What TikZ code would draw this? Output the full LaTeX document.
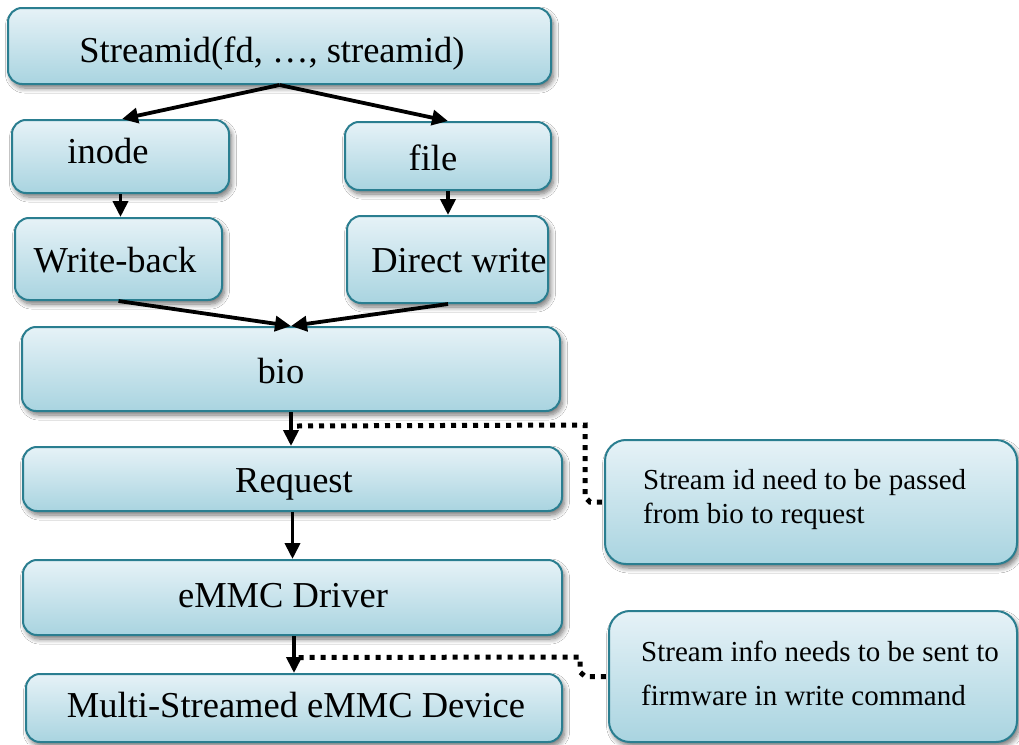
\documentclass[tikz,border=0pt]{standalone}
\usepackage{fontspec}
\setmainfont{Liberation Serif}
\usetikzlibrary{arrows.meta,shadows.blur,calc}

\definecolor{boxtop}{HTML}{E6F2F7}
\definecolor{boxbot}{HTML}{A9D4E0}
\definecolor{boxline}{HTML}{2A7E90}

\tikzset{
  box/.style={draw=boxline, line width=2pt, rounded corners=14pt,
    top color=boxtop, bottom color=boxbot, inner sep=0pt,
    blur shadow={shadow xshift=2.5pt, shadow yshift=-4pt,
      shadow blur radius=5pt, shadow blur steps=8, shadow opacity=55}},
  notebox/.style={box, rounded corners=21pt},
  lbl/.style={anchor=base, inner sep=0pt, font=\fontsize{36.5}{40}\selectfont},
  notelbl/.style={anchor=base west, inner sep=0pt, font=\fontsize{29}{33}\selectfont},
  flow/.style={line width=3.8pt, -{Triangle[length=16pt,width=15pt]}},
  dotline/.style={line width=5pt, dash pattern=on 5pt off 6pt}
}

\begin{document}
\begin{tikzpicture}[x=1pt, y=-1pt]
  % page frame
  \fill[white] (0,0) rectangle (1019,744);
  \useasboundingbox (0,0) rectangle (1019,744);

  % boxes of the stack
  \node[box, minimum width=543pt, minimum height=76pt] (sid) at (279.5,46) {};
  \node[box, minimum width=217pt, minimum height=73pt] (ino) at (120.5,156.5) {};
  \node[box, minimum width=206pt, minimum height=68pt] (fil) at (448,156) {};
  \node[box, minimum width=207pt, minimum height=82pt] (wb) at (118.5,259) {};
  \node[box, minimum width=201pt, minimum height=87pt] (dw) at (447.5,259.5) {};
  \node[box, minimum width=538pt, minimum height=84pt] (bio) at (291,369) {};
  \node[box, minimum width=539pt, minimum height=64pt] (req) at (292.5,479) {};
  \node[box, minimum width=539pt, minimum height=75pt] (drv) at (292.5,597.5) {};
  \node[box, minimum width=536pt, minimum height=68pt] (dev) at (294,708) {};

  % side notes
  \node[notebox, minimum width=412pt, minimum height=124pt] (n1) at (811,502) {};
  \node[notebox, minimum width=408pt, minimum height=131pt] (n2) at (813,676.5) {};

  % labels
  \node[lbl] (t-sid) at (272,62) {Streamid(fd, …, streamid)};
  \node[lbl] (t-ino) at (108,163) {inode};
  \node[lbl] (t-fil) at (433,170) {file};
  \node[lbl] (t-wb) at (115,272) {Write-back};
  \node[lbl] (t-dw) at (459,272) {Direct write};
  \node[lbl] (t-bio) at (281,383) {bio};
  \node[lbl] (t-req) at (294,492) {Request};
  \node[lbl] (t-drv) at (283,607) {eMMC Driver};
  \node[lbl] (t-dev) at (296,717) {Multi-Streamed eMMC Device};
  \node[notelbl] (t-n1a) at (643,489) {Stream id need to be passed};
  \node[notelbl] (t-n1b) at (643,523) {from bio to request};
  \node[notelbl] (t-n2a) at (641,661) {Stream info needs to be sent to};
  \node[notelbl] (t-n2b) at (641,705) {firmware in write command};

  % flow arrows
  \draw[flow] (sid.south) -- ($(ino.north)+(1.5,0)$);
  \draw[flow] (sid.south) -- (fil.north);
  \draw[flow] (ino.south) -- (ino.south |- wb.north);
  \draw[flow] (fil.south) -- (fil.south |- dw.north);
  \draw[flow] (wb.south) -- (bio.north);
  \draw[flow] ($(dw.south)+(0.5,0)$) -- (bio.north);
  \draw[flow] (bio.south) -- (bio.south |- req.north);
  \draw[flow] (req.south) -- (req.south |- drv.north);
  \coordinate (drvout) at ($(drv.south)+(1.5,0)$);
  \draw[flow] (drvout) -- (drvout |- dev.north);

  % dotted leaders to the notes
  \coordinate (d1) at ($(bio.south)+(6,14)$);
  \draw[dotline] (d1) -- (585,425) -- (585,497) -- (590,502) -- (n1.west);
  \coordinate (d2) at ($(drv.south)+(6,21.5)$);
  \draw[dotline] (d2) -- (580,657) -- (580,672) -- (585,676.5) -- (n2.west);
\end{tikzpicture}
\end{document}
